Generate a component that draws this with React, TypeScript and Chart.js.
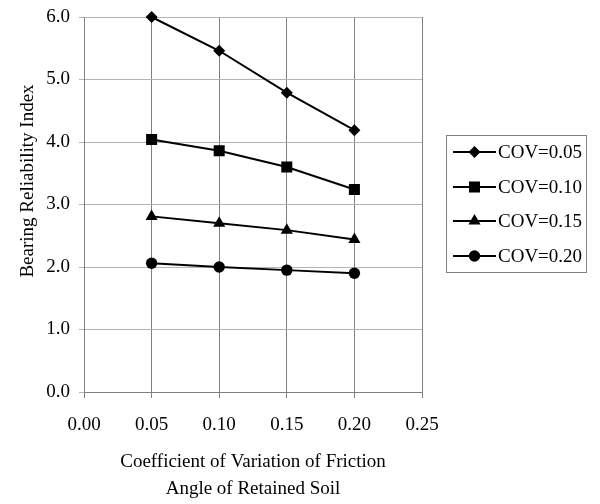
import React, { useEffect, useRef } from "react";
import { Chart, registerables } from "chart.js";

Chart.register(...registerables);

const xValues = [0.05, 0.1, 0.15, 0.2];
const seriesLabels = ["COV=0.05", "COV=0.10", "COV=0.15", "COV=0.20"];
const cov005 = [6.0, 5.46, 4.79, 4.19];
const cov010 = [4.04, 3.86, 3.6, 3.24];
const cov015 = [2.81, 2.7, 2.59, 2.44];
const cov020 = [2.06, 2.0, 1.95, 1.9];
const xTitle = ["Coefficient of Variation of Friction", "Angle of Retained Soil"];
const yTitle = "Bearing Reliability Index";

const FONT = "'Liberation Serif', 'Times New Roman', serif";
const FS = 19;

const pointStyles = ["rectRot", "rect", "triangle", "circle"];
const pointRadii = [6, 7.8, 7, 5.7];

function drawMarker(ctx: CanvasRenderingContext2D, style: string, r: number, x: number, y: number) {
  ctx.beginPath();
  if (style === "rectRot") {
    ctx.moveTo(x - r, y);
    ctx.lineTo(x, y - r);
    ctx.lineTo(x + r, y);
    ctx.lineTo(x, y + r);
    ctx.closePath();
  } else if (style === "rect") {
    const s = Math.SQRT1_2 * r;
    ctx.rect(x - s, y - s, 2 * s, 2 * s);
  } else if (style === "triangle") {
    const a = (2 * Math.PI) / 3;
    ctx.moveTo(x, y - r);
    ctx.lineTo(x + Math.sin(a) * r, y - Math.cos(a) * r);
    ctx.lineTo(x + Math.sin(2 * a) * r, y - Math.cos(2 * a) * r);
    ctx.closePath();
  } else {
    ctx.arc(x, y, r, 0, Math.PI * 2);
  }
  ctx.fill();
}

const legendPlugin = {
  id: "boxLegend",
  afterDraw(chart: any) {
    const ctx = chart.ctx;
    const left = 446.5, top = 135.5, right = 586.5, bottom = 272.5;
    ctx.save();
    ctx.strokeStyle = "#808080";
    ctx.lineWidth = 1;
    ctx.strokeRect(left, top, right - left, bottom - top);
    const rows = [152, 187, 221, 256];
    chart.data.datasets.forEach((ds: any, i: number) => {
      const y = rows[i];
      ctx.strokeStyle = "#000";
      ctx.lineWidth = 2;
      ctx.beginPath();
      ctx.moveTo(453, y);
      ctx.lineTo(496, y);
      ctx.stroke();
      ctx.fillStyle = "#000";
      drawMarker(ctx, ds.pointStyle, ds.pointRadius, 474.5, y);
      ctx.font = `${FS}px ${FONT}`;
      ctx.textBaseline = "middle";
      ctx.textAlign = "left";
      ctx.fillText(ds.label, 498, y + 1);
    });
    // y axis title
    ctx.translate(32.5, 181);
    ctx.rotate(-Math.PI / 2);
    ctx.font = `${FS}px ${FONT}`;
    ctx.textAlign = "center";
    ctx.textBaseline = "alphabetic";
    ctx.fillText(yTitle, 0, 0);
    ctx.restore();
  },
};

export default function App() {
  const ref = useRef<HTMLCanvasElement | null>(null);
  useEffect(() => {
    document.body.style.margin = "0";
    const all = [cov005, cov010, cov015, cov020];
    const chart = new Chart(ref.current as HTMLCanvasElement, {
      type: "line",
      data: {
        datasets: all.map((vals, i) => ({
          label: seriesLabels[i],
          data: xValues.map((x, j) => ({ x, y: vals[j] })),
          borderColor: "#000",
          backgroundColor: "#000",
          borderWidth: 2,
          pointStyle: pointStyles[i] as any,
          pointRadius: pointRadii[i],
          pointBorderWidth: 0,
          pointBackgroundColor: "#000",
          tension: 0,
          clip: false as any,
        })),
      },
      options: {
        animation: false,
        responsive: false,
        layout: { autoPadding: false, padding: { left: 0, top: 17, right: 178, bottom: 0 } },
        plugins: { legend: { display: false }, tooltip: { enabled: false } },
        scales: {
          x: {
            type: "linear",
            min: 0,
            max: 0.25,
            afterFit: (s: any) => { s.height = 112; s.paddingLeft = 0; s.paddingRight = 0; },
            ticks: {
              stepSize: 0.05,
              color: "#000",
              font: { family: FONT, size: FS },
              padding: 16,
              maxRotation: 0,
              callback: (v: any) => Number(v).toFixed(2),
            },
            grid: { color: "#808080", tickLength: 6, lineWidth: 1 },
            border: { color: "#808080" },
            title: {
              display: true,
              text: xTitle,
              color: "#000",
              font: { family: FONT, size: FS, lineHeight: 27 / FS },
              padding: { top: 0, bottom: 1.5 },
            },
          },
          y: {
            min: 0,
            max: 6,
            afterFit: (s: any) => { s.width = 84; s.paddingTop = 0; s.paddingBottom = 0; },
            ticks: {
              stepSize: 1,
              color: "#000",
              font: { family: FONT, size: FS },
              padding: 9,
              callback: (v: any) => Number(v).toFixed(1),
            },
            grid: { color: "#b4b4b4", tickLength: 5, lineWidth: 1 },
            border: { color: "#808080" },
            title: { display: false },
          },
        },
      },
      plugins: [legendPlugin],
    });
    return () => chart.destroy();
  }, []);
  return <canvas ref={ref} width={600} height={504} style={{ display: "block" }} />;
}
